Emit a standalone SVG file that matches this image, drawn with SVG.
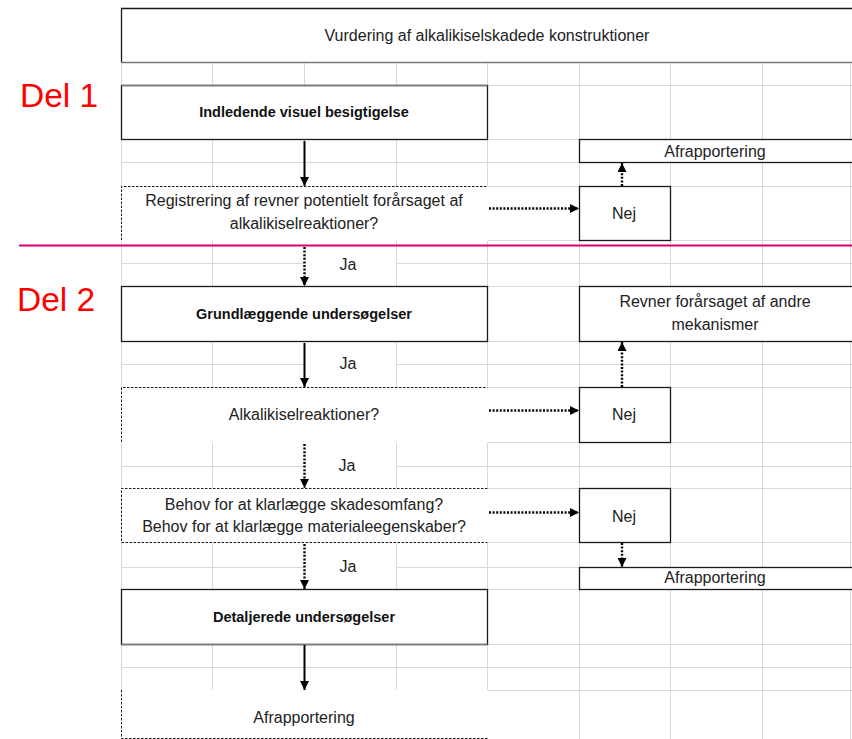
<svg xmlns="http://www.w3.org/2000/svg" width="852" height="739" viewBox="0 0 852 739">
<defs>
<style>
.grid{stroke:#d9d9d9;stroke-width:1;fill:none}
.blank{fill:#fff;stroke:none}
.box{fill:#fff;stroke:#1a1a1a;stroke-width:1.3}
.dbox{fill:none;stroke:#1a1a1a;stroke-width:1;stroke-dasharray:2.5 1.5}
.t{font-family:"Liberation Sans",Arial,sans-serif;font-size:16px;fill:#222;text-anchor:middle}
.b{font-family:"Liberation Sans",Arial,sans-serif;font-size:14.5px;font-weight:bold;fill:#111;text-anchor:middle}
.del{font-family:"Liberation Sans",Arial,sans-serif;font-size:33.5px;fill:#ff0000}
.solid{stroke:#000;stroke-width:2;fill:none;marker-end:url(#ah)}
.dot{stroke:#000;stroke-width:2.4;stroke-dasharray:2 1.6;fill:none;marker-end:url(#ah)}
</style>
<marker id="ah" markerUnits="userSpaceOnUse" markerWidth="9" markerHeight="9" refX="9" refY="4.5" orient="auto">
<path d="M0,0 L9,4.5 L0,9 z" fill="#000"/>
</marker>
</defs>
<rect width="852" height="739" fill="#fff"/>
<g id="grid">
<path class="grid" d="M121.5 62.5V690.5M212.5 62.5V690.5M304.5 62.5V690.5M396.5 62.5V690.5M487.5 62.5V690.5M579.5 62.5V739M670.5 62.5V739M762.5 62.5V739M850.5 62.5V739
M121.5 62.5H852M121.5 85.5H852M121.5 139.5H852M121.5 162.5H852M121.5 186.5H852M121.5 240.5H852M121.5 263.5H852M121.5 286.5H852M121.5 341.5H852M121.5 364.5H852M121.5 387.5H852M121.5 442.5H852M121.5 466.5H852M121.5 488.5H852M121.5 542.5H852M121.5 567.5H852M121.5 589.5H852M121.5 644.5H852M121.5 667.5H852M487.5 690.5H852"/>
<rect class="blank" x="121" y="186" width="367" height="55"/>
<rect class="blank" x="488" y="187" width="91" height="53"/>
<rect class="blank" x="121" y="387" width="367" height="56"/>
<rect class="blank" x="488" y="388" width="91" height="54"/>
<rect class="blank" x="121" y="488" width="367" height="55"/>
<rect class="blank" x="488" y="489" width="91" height="53"/>
<rect class="blank" x="121" y="690" width="367" height="49"/>
<rect class="blank" x="304" y="241" width="92" height="45"/>
<rect class="blank" x="304" y="342" width="92" height="45"/>
<rect class="blank" x="304" y="443" width="92" height="45"/>
<rect class="blank" x="304" y="543" width="92" height="46"/>
</g>
<g id="title">
<rect x="121.5" y="8.5" width="732" height="54" fill="#fff" stroke="none"/>
<path d="M121.5 62.5V8.5H853" fill="none" stroke="#1a1a1a" stroke-width="1.3"/>
<path d="M121.5 62.5H853" fill="none" stroke="#777" stroke-width="1.6"/>
<text class="t" x="487" y="41">Vurdering af alkalikiselskadede konstruktioner</text>
</g>
<g id="del1"><text class="del" x="20" y="107">Del 1</text></g>
<g id="del2"><text class="del" x="17" y="311">Del 2</text></g>
<g id="indledende">
<rect class="box" x="121.5" y="85.5" width="366" height="54"/>
<path d="M121.5 85.5H487.5" stroke="#777" stroke-width="1.6"/>
<text class="b" x="304" y="117">Indledende visuel besigtigelse</text>
</g>
<g id="afrap1">
<rect class="box" x="579.5" y="139.5" width="274" height="23"/>
<text class="t" x="715" y="157">Afrapportering</text>
</g>
<g id="registrering">
<path class="dbox" d="M121.5 240V186.5H487.5"/>
<text class="t" x="304" y="206">Registrering af revner potentielt forårsaget af</text>
<text class="t" x="304" y="229">alkalikiselreaktioner?</text>
</g>
<g id="nej1">
<rect class="box" x="579.5" y="186.5" width="91" height="54"/>
<text class="t" x="624" y="219">Nej</text>
</g>
<g id="grundlaeggende">
<rect class="box" x="121.5" y="286.5" width="366" height="55"/>
<text class="b" x="304" y="319">Grundlæggende undersøgelser</text>
</g>
<g id="revner">
<rect class="box" x="579.5" y="286.5" width="274" height="55"/>
<text class="t" x="715" y="307">Revner forårsaget af andre</text>
<text class="t" x="715" y="330">mekanismer</text>
</g>
<g id="alkali">
<path class="dbox" d="M121.5 442V387.5H487.5"/>
<text class="t" x="304" y="420">Alkalikiselreaktioner?</text>
</g>
<g id="nej2">
<rect class="box" x="579.5" y="387.5" width="91" height="55"/>
<text class="t" x="624" y="420">Nej</text>
</g>
<g id="behov">
<path class="dbox" d="M487.5 488.5H121.5V542.5H487.5"/>
<text class="t" x="304" y="510">Behov for at klarlægge skadesomfang?</text>
<text class="t" x="304" y="532">Behov for at klarlægge materialeegenskaber?</text>
</g>
<g id="nej3">
<rect class="box" x="579.5" y="488.5" width="91" height="54"/>
<text class="t" x="624" y="522">Nej</text>
</g>
<g id="afrap2">
<rect class="box" x="579.5" y="567.5" width="274" height="22"/>
<text class="t" x="715" y="583">Afrapportering</text>
</g>
<g id="detaljerede">
<rect class="box" x="121.5" y="589.5" width="366" height="55"/>
<path d="M121.5 644.5H487.5" stroke="#777" stroke-width="1.6"/>
<text class="b" x="304" y="622">Detaljerede undersøgelser</text>
</g>
<g id="afrap3">
<path class="dbox" d="M121.5 690V738.5H487.5"/>
<text class="t" x="304" y="723">Afrapportering</text>
</g>
<g id="connectors">
<path class="solid" d="M304.5 141V186"/>
<path class="dot" d="M489 208.5H579"/>
<path class="dot" d="M622 186V163"/>
<path class="dot" d="M304.5 247V286"/>
<path class="solid" d="M304.5 343V387"/>
<path class="dot" d="M489 410.5H579"/>
<path class="dot" d="M622 387V342"/>
<path class="dot" d="M304.5 444V488"/>
<path class="dot" d="M489 512.5H579"/>
<path class="dot" d="M622 543V567"/>
<path class="dot" d="M304.5 544V589"/>
<path class="solid" d="M304.5 645V690"/>
</g>
<g id="labels">
<text class="t" x="348" y="270">Ja</text>
<text class="t" x="348" y="369">Ja</text>
<text class="t" x="347" y="471">Ja</text>
<text class="t" x="348" y="572">Ja</text>
</g>
<g id="divider">
<line x1="19" y1="245.5" x2="852" y2="245.5" stroke="#d9006c" stroke-width="2"/>
</g>
</svg>
